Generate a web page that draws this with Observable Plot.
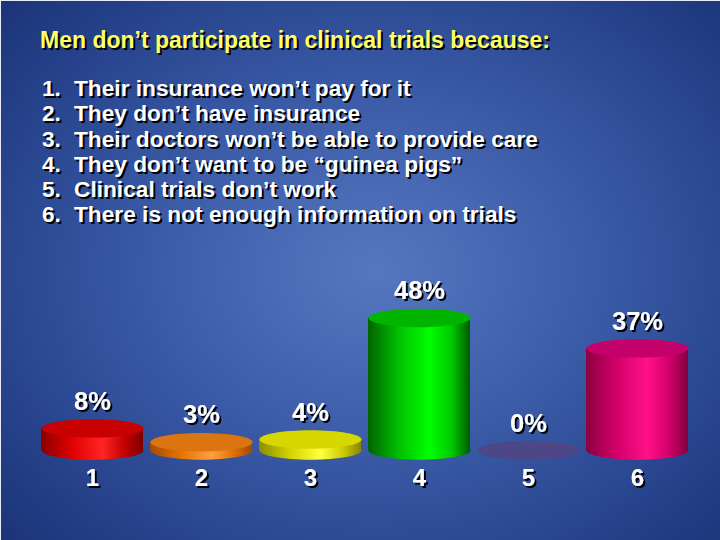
<!DOCTYPE html>
<html>
<head>
<meta charset="utf-8">
<script src="https://cdn.jsdelivr.net/npm/d3@7"></script>
<script src="https://cdn.jsdelivr.net/npm/@observablehq/plot@0.6"></script>
<style>
  html, body { margin: 0; padding: 0; }
  body { width: 720px; height: 540px; overflow: hidden; }
  #slide {
    position: relative; width: 720px; height: 540px; box-sizing: border-box;
    border-left: 1px solid #e8ecf4; border-top: 1px solid #e8ecf4;
    background: radial-gradient(ellipse 75% 80% at 52% 50%, #5677c0 0%, #3c5ca8 40%, #25418a 75%, #182f72 100%);
    font-family: "Liberation Sans", Arial, sans-serif; font-weight: bold;
  }
  #header { position: absolute; left: 0; top: 0; width: 720px; height: 240px; }
  #title {
    position: absolute; left: 39px; top: 28px; font-size: 23px; line-height: 23px;
    color: #ffff66; text-shadow: 2px 2px 0 #000; white-space: nowrap;
  }
  #list { position: absolute; left: 41px; top: 75px; font-size: 22.7px; line-height: 25.3px; color: #fff; text-shadow: 2px 2px 0 #000; }
  #list div { white-space: nowrap; }
  #list .n { display: inline-block; width: 32px; }
  #chart { position: absolute; left: 0; top: 240px; width: 720px; height: 300px; }
</style>
</head>
<body>
<div id="slide">
  <div id="header"><div id="title"></div><div id="list"></div></div>
  <div id="chart"></div>
</div>
<script>
// ---- data ----
const title = "Men don’t participate in clinical trials because:";
const reasonNumbers = ["1.", "2.", "3.", "4.", "5.", "6."];
const reasons = [
  "Their insurance won’t pay for it",
  "They don’t have insurance",
  "Their doctors won’t be able to provide care",
  "They don’t want to be “guinea pigs”",
  "Clinical trials don’t work",
  "There is not enough information on trials"
];
const categories = ["1", "2", "3", "4", "5", "6"];
const values = [8, 3, 4, 48, 0, 37];
const valueLabels = ["8%", "3%", "4%", "48%", "0%", "37%"];

// ---- styles ----
const bodyStops = [
  ["#8a0000", "#e00000", "#ff2424", "#c40000", "#7a0000"],
  ["#a84a00", "#e57400", "#ffa040", "#e07000", "#a04800"],
  ["#8c8c00", "#d4d400", "#ffff40", "#cccc00", "#858500"],
  ["#006400", "#00c000", "#00ff00", "#00c800", "#005a00"],
  ["#4a4384", "#4c4586", "#4e4788", "#4c4586", "#4a4384"],
  ["#8a0040", "#d4006a", "#ff1088", "#d0006a", "#80003c"]
];
const capColors = ["#c80000", "#dc7410", "#d6d600", "#00b400", "#4d4687", "#c4006a"];

// header text
document.getElementById("title").textContent = title;
const list = document.getElementById("list");
reasons.forEach((r, i) => {
  const d = document.createElement("div");
  const n = document.createElement("span"); n.className = "n"; n.textContent = reasonNumbers[i];
  const t = document.createElement("span"); t.textContent = r;
  d.appendChild(n); d.appendChild(t); list.appendChild(d);
});

const data = categories.map((c, i) => ({
  cat: c, value: values[i], label: valueLabels[i],
  body: `url(#body${i})`, cap: capColors[i]
}));

// elliptical symbol for cylinder ends
const ellipse = {
  draw(ctx, size) {
    const rx = Math.sqrt(size / Math.PI), ry = rx * 0.18, k = 0.5522847498;
    ctx.moveTo(rx, 0);
    ctx.bezierCurveTo(rx, ry * k, rx * k, ry, 0, ry);
    ctx.bezierCurveTo(-rx * k, ry, -rx, ry * k, -rx, 0);
    ctx.bezierCurveTo(-rx, -ry * k, -rx * k, -ry, 0, -ry);
    ctx.bezierCurveTo(rx * k, -ry, rx, -ry * k, rx, 0);
    ctx.closePath();
  }
};

const font = "Liberation Sans, Arial, sans-serif";

const chart = Plot.plot({
  width: 720,
  height: 300,
  marginLeft: 32,
  marginRight: 26,
  marginTop: 71,
  marginBottom: 91,
  x: {domain: categories, padding: 0.066, axis: null},
  y: {domain: [0, 50], axis: null},
  color: {type: "identity"},
  style: {background: "transparent", overflow: "visible"},
  marks: [
    Plot.dot(data, {x: "cat", y: () => 0, r: 51, symbol: ellipse, fill: "body", stroke: "none"}),
    Plot.barY(data, {x: "cat", y: "value", fill: "body"}),
    Plot.dot(data, {x: "cat", y: "value", r: 51, symbol: ellipse, fill: "cap", stroke: "none"}),
    Plot.text(data, {x: "cat", y: "value", text: "label", dy: -27, fill: "#fff",
      fontSize: 25.5, fontWeight: "bold", fontFamily: font}),
    Plot.text(data, {x: "cat", frameAnchor: "bottom", text: "cat", dy: 35, fill: "#fff",
      fontSize: 24, fontWeight: "bold", fontFamily: font})
  ]
});

// gradients for cylinder bodies + text shadow filter
const defs = d3.select(chart).insert("defs", ":first-child");
bodyStops.forEach((stops, i) => {
  const g = defs.append("linearGradient").attr("id", `body${i}`)
    .attr("x1", "0").attr("x2", "1").attr("y1", "0").attr("y2", "0");
  const offs = [0, 0.3, 0.6, 0.82, 1];
  stops.forEach((c, j) => g.append("stop").attr("offset", offs[j]).attr("stop-color", c));
});
const f = defs.append("filter").attr("id", "shadow").attr("x", "-20%").attr("y", "-20%")
  .attr("width", "150%").attr("height", "150%");
f.append("feDropShadow").attr("dx", 2).attr("dy", 2).attr("stdDeviation", 0)
  .attr("flood-color", "#000").attr("flood-opacity", 1);
d3.select(chart).selectAll("g[aria-label='text']").attr("filter", "url(#shadow)");
document.getElementById("chart").appendChild(chart);
</script>
</body>
</html>
